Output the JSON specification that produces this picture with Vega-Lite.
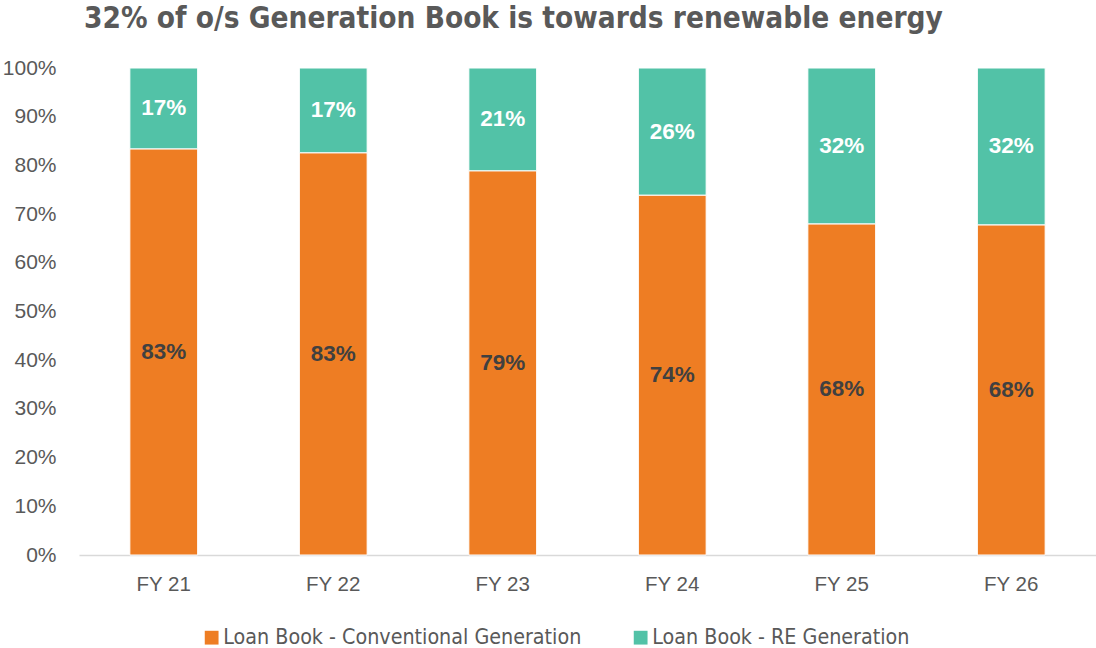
{
  "$schema": "https://vega.github.io/schema/vega-lite/v6.json",
  "width": 1017,
  "height": 487,
  "autosize": {"type": "none"},
  "padding": {"left": 79, "top": 68, "right": 0, "bottom": 93},
  "background": "white",
  "title": {
    "text": "32% of o/s Generation Book is towards renewable energy",
    "font": "DejaVu Sans Condensed, Open Sans, sans-serif",
    "fontSize": 29.5,
    "fontWeight": "bold",
    "color": "#595959",
    "anchor": "middle",
    "dx": -74,
    "offset": 23
  },
  "data": {
    "values": [
      {"year": "FY 21", "series": "Loan Book - Conventional Generation", "share": 0.834},
      {"year": "FY 21", "series": "Loan Book - RE Generation", "share": 0.166},
      {"year": "FY 22", "series": "Loan Book - Conventional Generation", "share": 0.826},
      {"year": "FY 22", "series": "Loan Book - RE Generation", "share": 0.174},
      {"year": "FY 23", "series": "Loan Book - Conventional Generation", "share": 0.789},
      {"year": "FY 23", "series": "Loan Book - RE Generation", "share": 0.211},
      {"year": "FY 24", "series": "Loan Book - Conventional Generation", "share": 0.739},
      {"year": "FY 24", "series": "Loan Book - RE Generation", "share": 0.261},
      {"year": "FY 25", "series": "Loan Book - Conventional Generation", "share": 0.680},
      {"year": "FY 25", "series": "Loan Book - RE Generation", "share": 0.320},
      {"year": "FY 26", "series": "Loan Book - Conventional Generation", "share": 0.678},
      {"year": "FY 26", "series": "Loan Book - RE Generation", "share": 0.322}
    ]
  },
  "transform": [
    {"stack": "share", "groupby": ["year"], "sort": [{"field": "series", "order": "ascending"}], "as": ["s0", "s1"]},
    {"calculate": "(datum.s0 + datum.s1) / 2", "as": "mid"}
  ],
  "encoding": {
    "x": {
      "field": "year",
      "type": "nominal",
      "scale": {"paddingInner": 0.6, "paddingOuter": 0.3},
      "axis": {
        "title": null,
        "labelAngle": 0,
        "labelFont": "Liberation Sans",
        "labelFontSize": 20.5,
        "labelColor": "#595959",
        "labelPadding": 19,
        "ticks": false,
        "domainColor": "#d9d9d9",
        "domainWidth": 1.5
      }
    }
  },
  "layer": [
    {
      "mark": {"type": "bar", "stroke": "white", "strokeWidth": 1},
      "encoding": {
        "y": {
          "field": "s0",
          "type": "quantitative",
          "scale": {"domain": [0, 1]},
          "axis": {
            "title": null,
            "format": ".0%",
            "values": [0, 0.1, 0.2, 0.3, 0.4, 0.5, 0.6, 0.7, 0.8, 0.9, 1],
            "labelFont": "Liberation Sans",
            "labelFontSize": 21,
            "labelColor": "#595959",
            "labelPadding": 23,
            "ticks": false,
            "domain": false,
            "grid": false
          }
        },
        "y2": {"field": "s1"},
        "color": {
          "field": "series",
          "type": "nominal",
          "scale": {
            "domain": ["Loan Book - Conventional Generation", "Loan Book - RE Generation"],
            "range": ["#EE7D23", "#52C2A7"]
          },
          "legend": {
            "title": null,
            "orient": "none",
            "legendX": 122,
            "legendY": 559,
            "direction": "horizontal",
            "symbolType": "square",
            "symbolSize": 190,
            "symbolStrokeWidth": 0,
            "labelFont": "DejaVu Sans Condensed, Open Sans, sans-serif",
            "labelFontSize": 21.3,
            "labelColor": "#595959",
            "labelLimit": 500,
            "labelOffset": 1,
            "columnPadding": 48,
            "symbolOffset": 0
          }
        }
      }
    },
    {
      "mark": {"type": "text", "font": "Liberation Sans", "fontSize": 22.5, "fontWeight": "bold", "baseline": "middle", "align": "center"},
      "encoding": {
        "y": {"field": "mid", "type": "quantitative"},
        "text": {"field": "share", "type": "quantitative", "format": ".0%"},
        "color": {
          "field": "series",
          "type": "nominal",
          "scale": {
            "domain": ["Loan Book - Conventional Generation", "Loan Book - RE Generation"],
            "range": ["#404040", "#ffffff"]
          },
          "legend": null
        }
      }
    }
  ],
  "resolve": {"scale": {"color": "independent"}},
  "config": {"view": {"stroke": null}}
}
